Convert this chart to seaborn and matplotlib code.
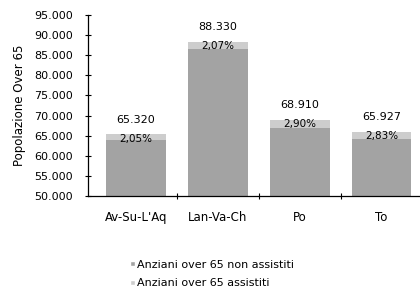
import numpy as np
import pandas as pd
import matplotlib
matplotlib.use("Agg")
import matplotlib.pyplot as plt
import seaborn as sns
from matplotlib.patches import Patch
from matplotlib.ticker import FuncFormatter

sns.set_theme(style="white")
plt.rcParams['font.family'] = ['DejaVu Sans']
plt.rcParams['text.color'] = 'black'
plt.rcParams['axes.labelcolor'] = 'black'
plt.rcParams['xtick.color'] = 'black'
plt.rcParams['ytick.color'] = 'black'

# data
aree = ["Av-Su-L'Aq", "Lan-Va-Ch", "Po", "To"]
totale_over65 = [65320, 88330, 68910, 65927]
perc_assistiti = [2.05, 2.07, 2.90, 2.83]
serie_labels = ["Anziani over 65 non assistiti", "Anziani over 65 assistiti"]
y_ticks = [50000, 55000, 60000, 65000, 70000, 75000, 80000, 85000, 90000, 95000]

df = pd.DataFrame({"area": aree, "totale": totale_over65, "perc": perc_assistiti})
df["non_assistiti"] = df["totale"] * (1 - df["perc"] / 100)

col_non = "#a3a3a3"
col_ass = "#cdcdcd"

fig, ax = plt.subplots(figsize=(4.2, 3.0), dpi=100)
fig.subplots_adjust(left=0.21, right=0.998, bottom=0.347, top=0.95)

# stacked: total bar (assistiti on top) then non assistiti over it
sns.barplot(data=df, x="area", y="totale", color=col_ass, width=0.73,
            saturation=1, ax=ax, edgecolor="none")
sns.barplot(data=df, x="area", y="non_assistiti", color=col_non, width=0.73,
            saturation=1, ax=ax, edgecolor="none")

ax.set_ylim(50000, 95000)
ax.set_xlim(-0.585, 3.46)
ax.set_yticks(y_ticks)
ax.yaxis.set_major_formatter(FuncFormatter(lambda v, p: f"{int(v):,}".replace(",", ".")))
ax.set_ylabel("Popolazione Over 65", fontsize=8.5, labelpad=6)
ax.set_xlabel("")

for s in ["top", "right"]:
    ax.spines[s].set_visible(False)
for s in ["left", "bottom"]:
    ax.spines[s].set_color("black")
    ax.spines[s].set_linewidth(0.9)

ax.tick_params(axis="y", which="both", left=True, length=4, width=0.8,
               direction="inout", labelsize=8, pad=9)
ax.tick_params(axis="x", which="major", bottom=False, labelsize=8.5, pad=5)
ax.set_xticks([0.5, 1.5, 2.5], minor=True)
ax.tick_params(axis="x", which="minor", bottom=True, length=4, width=0.8,
               direction="inout")

for i, row in df.iterrows():
    ax.text(i, row["totale"] + 3600, f"{int(row['totale']):,}".replace(",", "."),
            ha="center", va="center", fontsize=8)
    ax.text(i, row["totale"] - 1100, f"{row['perc']:.2f}%".replace(".", ","),
            ha="center", va="center", fontsize=7.5)

handles = [Patch(facecolor=col_non, label=serie_labels[0]),
           Patch(facecolor=col_ass, label=serie_labels[1])]
fig.legend(handles=handles, loc="upper left", bbox_to_anchor=(0.31, 0.135),
           ncol=1, frameon=False, fontsize=8, handlelength=0.4,
           handleheight=0.4, handletextpad=0.2, labelspacing=0.8,
           borderpad=0, borderaxespad=0)

plt.savefig("out.png", dpi=100)
plt.close()
